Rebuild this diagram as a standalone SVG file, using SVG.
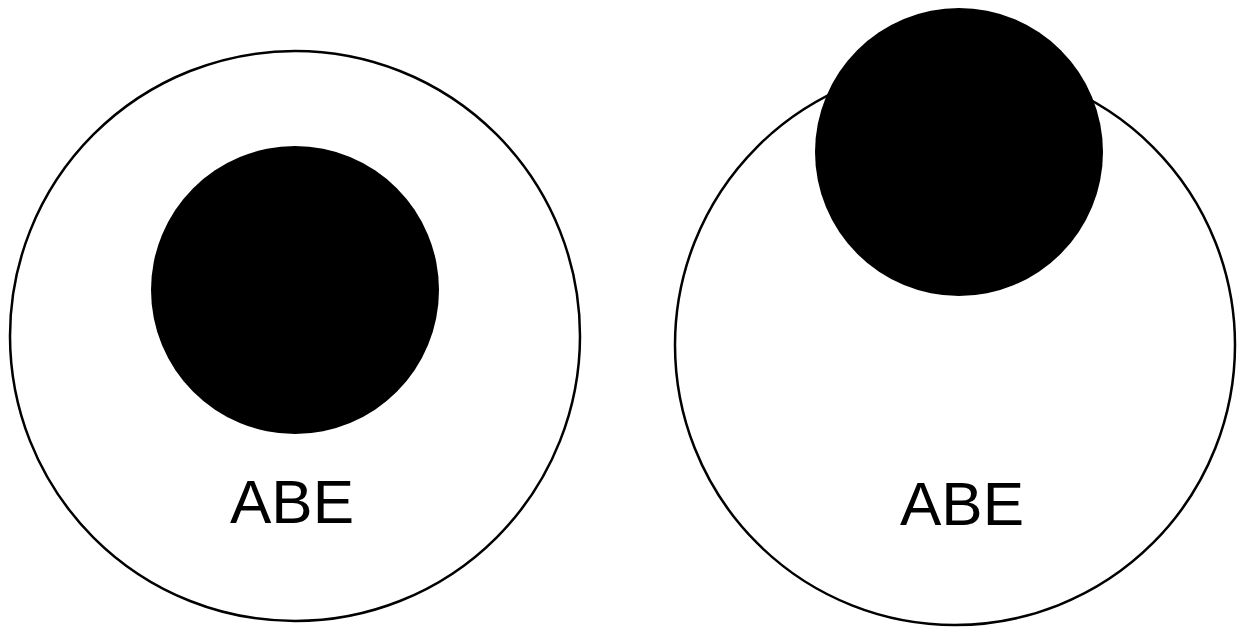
<svg xmlns="http://www.w3.org/2000/svg" width="1241" height="627" viewBox="0 0 1241 627">
<style>
.outer{fill:#fff;stroke:#000;stroke-width:2.5}
.core{fill:#000;stroke:none}
.lbl{font-family:"Liberation Sans",Arial,sans-serif;font-size:62px;fill:#000;text-anchor:middle}
</style>
<rect width="1241" height="627" fill="#fff"/>
<g id="left">
<circle class="outer" cx="295" cy="336" r="285"/>
<circle class="core" cx="295" cy="290" r="144"/>
<text class="lbl" x="292" y="523">ABE</text>
</g>
<g id="right">
<circle class="outer" cx="955" cy="345" r="280"/>
<circle class="core" cx="959" cy="152" r="144"/>
<text class="lbl" x="962" y="525">ABE</text>
</g>
<g id="connectors"></g>
</svg>
